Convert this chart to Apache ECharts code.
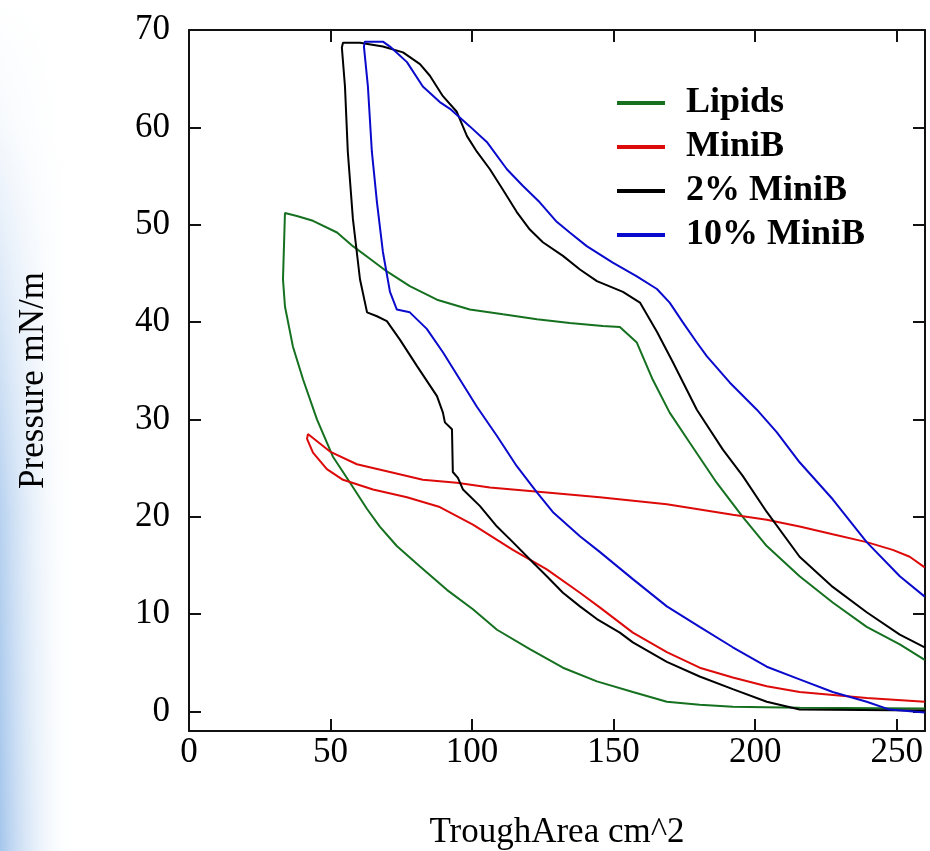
<!DOCTYPE html>
<html>
<head>
<meta charset="utf-8">
<script src="https://cdn.jsdelivr.net/npm/echarts@6/dist/echarts.min.js"></script>
<style>
html,body{margin:0;padding:0;background:#fff;}
#chart{width:930px;height:851px;}
</style>
</head>
<body>
<div id="chart"></div>
<script>
// ---- data ----
const seriesNames = ['Lipids', 'MiniB', '2% MiniB', '10% MiniB'];
const xTicks = [0, 50, 100, 150, 200, 250];
const yTicks = [0, 10, 20, 30, 40, 50, 60, 70];

const lipidsArea = [259.9, 251.1, 239.4, 227.4, 215.7, 204.1, 195.6, 186.4, 176.9, 169.8, 163.8, 158.2, 152.2, 146.2, 134.5, 122.9, 110.9, 99.2, 87.6, 78.0, 69.9, 63.9, 57.9, 52.3, 43.8, 38.1, 33.9, 33.2, 33.2, 33.9, 36.7, 40.3, 45.2, 50.8, 56.9, 62.9, 67.4, 73.4, 81.6, 91.1, 100.3, 108.8, 120.4, 132.1, 144.1, 156.8, 168.8, 180.4, 192.1, 215.7, 259.9];
const lipidsPressure = [5.3, 6.9, 8.7, 11.2, 13.9, 17.0, 20.0, 23.5, 27.6, 30.7, 34.1, 37.9, 39.5, 39.6, 39.9, 40.3, 40.8, 41.3, 42.3, 43.7, 45.2, 46.5, 47.8, 49.2, 50.4, 50.9, 51.2, 51.3, 44.4, 41.6, 37.5, 34.1, 30.0, 26.2, 23.5, 20.8, 19.0, 17.0, 14.9, 12.5, 10.5, 8.4, 6.4, 4.5, 3.1, 2.0, 1.0, 0.7, 0.5, 0.4, 0.3];

const miniBArea = [259.9, 254.6, 248.6, 239.4, 227.4, 215.7, 204.1, 192.1, 168.8, 145.1, 126.4, 106.3, 94.6, 82.6, 71.0, 59.3, 49.8, 42.0, 41.7, 43.8, 48.7, 54.4, 65.0, 77.0, 88.6, 100.3, 114.4, 126.4, 138.1, 145.1, 156.8, 168.8, 180.4, 192.1, 204.1, 215.7, 239.4, 259.9];
const miniBPressure = [14.8, 15.9, 16.6, 17.4, 18.2, 19.0, 19.7, 20.2, 21.3, 22.0, 22.5, 23.0, 23.5, 23.8, 24.6, 25.4, 26.7, 28.5, 28.0, 26.6, 24.9, 23.8, 22.8, 22.0, 21.0, 19.2, 16.6, 14.6, 12.2, 10.7, 8.1, 6.1, 4.5, 3.5, 2.6, 2.0, 1.4, 1.0];

const mix2Area = [259.9, 251.1, 239.4, 227.4, 215.7, 204.1, 195.6, 188.6, 179.4, 170.9, 165.3, 159.3, 153.3, 144.1, 138.1, 132.1, 125.0, 120.4, 115.8, 110.9, 106.3, 101.7, 98.2, 94.6, 89.7, 85.1, 81.6, 75.6, 68.5, 60.4, 54.4, 54.0, 55.1, 56.1, 57.9, 60.4, 62.9, 66.4, 69.9, 74.5, 80.5, 87.6, 89.7, 90.4, 92.9, 93.2, 95.0, 96.8, 102.8, 108.8, 114.4, 121.5, 126.4, 132.1, 138.1, 144.1, 152.2, 156.8, 168.8, 180.4, 192.1, 204.1, 215.7, 259.9];
const mix2Pressure = [6.6, 7.9, 10.2, 12.8, 15.9, 20.5, 24.2, 26.9, 31.0, 35.9, 39.0, 42.0, 43.1, 44.2, 45.4, 46.8, 48.2, 49.5, 51.3, 53.6, 55.7, 57.5, 59.1, 61.6, 63.2, 65.3, 66.5, 67.7, 68.3, 68.7, 68.7, 68.2, 64.2, 57.5, 50.6, 44.4, 41.0, 40.6, 40.1, 38.2, 35.5, 32.4, 30.7, 29.7, 29.0, 24.6, 24.0, 22.8, 21.1, 19.0, 17.4, 15.3, 13.9, 12.2, 10.8, 9.5, 8.1, 7.1, 5.1, 3.6, 2.3, 1.0, 0.2, 0.1];

const mix10Area = [259.9, 251.1, 239.4, 227.4, 215.7, 207.6, 200.6, 191.0, 182.9, 179.4, 174.4, 169.8, 165.3, 158.2, 149.7, 140.5, 134.5, 129.9, 123.9, 117.9, 112.3, 105.2, 99.2, 92.2, 88.6, 82.6, 77.0, 71.0, 68.5, 65.0, 62.1, 61.8, 63.2, 64.6, 66.4, 68.5, 71.0, 73.4, 78.0, 84.0, 89.7, 95.7, 101.7, 108.8, 115.8, 122.9, 128.5, 138.1, 145.1, 156.8, 168.8, 180.4, 192.1, 204.1, 215.7, 227.4, 239.4, 247.5, 259.9];
const mix10Pressure = [11.8, 13.9, 17.4, 21.8, 25.6, 28.7, 31.0, 33.8, 36.5, 37.9, 40.0, 42.0, 43.4, 44.7, 46.1, 47.8, 49.2, 50.3, 52.3, 54.0, 55.7, 58.5, 60.1, 61.9, 62.6, 64.2, 66.7, 68.3, 68.8, 68.8, 68.8, 68.3, 64.2, 57.5, 52.3, 47.2, 43.1, 41.3, 41.0, 39.3, 36.9, 34.1, 31.3, 28.3, 25.2, 22.5, 20.5, 18.0, 16.4, 13.6, 10.8, 8.7, 6.6, 4.6, 3.3, 2.0, 1.0, 0.2, -0.1];

// ---- chart ----
const colors = ['#15701f', '#dd0a0a', '#000000', '#0a0acc'];
const zip = (a, b) => a.map((v, i) => [v, b[i]]);
const seriesData = [
  zip(lipidsArea, lipidsPressure),
  zip(miniBArea, miniBPressure),
  zip(mix2Area, mix2Pressure),
  zip(mix10Area, mix10Pressure)
];

const FONT = 'Liberation Serif';
const axisLineStyle = { color: '#111', width: 2 };

function xAx(pos, showLabels) {
  return {
    type: 'value', position: pos, min: 0, max: 260,
    axisLine: { show: true, onZero: false, lineStyle: axisLineStyle },
    axisTick: { show: true, inside: true, length: 12, customValues: xTicks, lineStyle: axisLineStyle },
    axisLabel: { show: showLabels, customValues: xTicks, margin: 4, color: '#000', fontFamily: FONT, fontSize: 35 },
    splitLine: { show: false },
    name: showLabels ? 'TroughArea cm^2' : '',
    nameLocation: 'middle', nameGap: 84,
    nameTextStyle: { color: '#000', fontFamily: FONT, fontSize: 35 }
  };
}
function yAx(pos, showLabels) {
  return {
    type: 'value', position: pos, min: -2, max: 70,
    axisLine: { show: true, onZero: false, lineStyle: axisLineStyle },
    axisTick: { show: true, inside: true, length: 12, customValues: yTicks, lineStyle: axisLineStyle },
    axisLabel: { show: showLabels, customValues: yTicks, margin: 19, color: '#000', fontFamily: FONT, fontSize: 35 },
    splitLine: { show: false },
    name: showLabels ? 'Pressure mN/m' : '',
    nameLocation: 'middle', nameGap: 138, nameRotate: 90,
    nameTextStyle: { color: '#000', fontFamily: FONT, fontSize: 35 }
  };
}

const chart = echarts.init(document.getElementById('chart'), null, { renderer: 'canvas' });
chart.setOption({
  animation: false,
  backgroundColor: '#ffffff',
  graphic: [
    {
      type: 'rect', z: -100, silent: true,
      shape: { x: 0, y: 0, width: 75, height: 851 },
      style: {
        fill: new echarts.graphic.LinearGradient(0, 0, 1, 0, [
          { offset: 0, color: 'rgba(165,198,236,1)' },
          { offset: 1, color: 'rgba(255,255,255,0)' }
        ])
      }
    },
    {
      type: 'rect', z: -99, silent: true,
      shape: { x: 0, y: 0, width: 80, height: 851 },
      style: {
        fill: new echarts.graphic.LinearGradient(0, 0, 0, 1, [
          { offset: 0, color: 'rgba(255,255,255,1)' },
          { offset: 0.15, color: 'rgba(255,255,255,0.9)' },
          { offset: 0.6, color: 'rgba(255,255,255,0.2)' },
          { offset: 1, color: 'rgba(255,255,255,0)' }
        ])
      }
    }
  ],
  grid: { left: 189, top: 30, right: 5, bottom: 120, containLabel: false, outerBoundsMode: 'none' },
  xAxis: [xAx('bottom', true), xAx('top', false)],
  yAxis: [yAx('left', true), yAx('right', false)],
  legend: {
    data: seriesNames,
    orient: 'vertical',
    left: 612, top: 80,
    icon: 'rect',
    itemWidth: 48, itemHeight: 4,
    itemGap: 8,
    textStyle: { color: '#000', fontFamily: FONT, fontWeight: 'bold', fontSize: 36, lineHeight: 36, padding: [0, 0, 0, 16] }
  },
  series: seriesNames.map((n, i) => ({
    name: n,
    type: 'line',
    xAxisIndex: 0, yAxisIndex: 0,
    data: seriesData[i],
    showSymbol: false,
    symbol: 'none',
    color: colors[i],
    lineStyle: { color: colors[i], width: 2 },
    itemStyle: { color: colors[i] },
    z: 3
  }))
});
</script>
</body>
</html>
